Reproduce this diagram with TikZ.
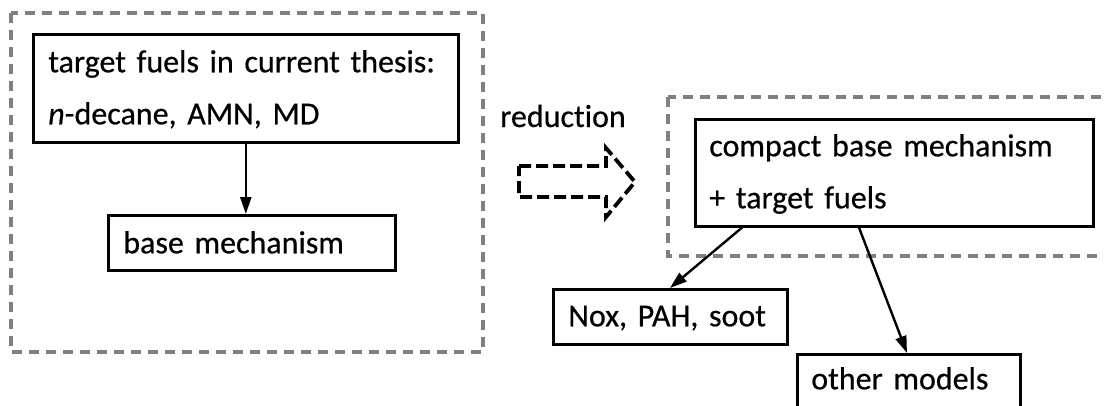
\documentclass[tikz,border=0pt]{standalone}
\usepackage{fontspec}
\setmainfont{Carlito}[Ligatures=NoCommon, FakeBold=0.5]
\usetikzlibrary{arrows.meta}
\definecolor{framegray}{RGB}{128,128,128}
\newcommand{\topstrut}[1]{\rule{0pt}{#1pt}}
\newcommand{\botstrut}[1]{\rule[-#1pt]{0pt}{#1pt}}
\tikzset{
  box/.style={draw, line width=2.6pt, anchor=north west, align=left,
    inner xsep=15pt, inner ysep=0pt, font=\fontsize{32}{52}\selectfont},
  group/.style={draw=framegray, line width=3.2pt, dash pattern=on 10pt off 7pt},
  arr/.style={line width=2.4pt, -{Triangle[length=17pt,width=11pt]}},
  hollow/.style={draw=black, line width=3.8pt, dash pattern=on 12pt off 5pt},
  label/.style={anchor=base west, inner sep=0pt, font=\fontsize{32}{52}\selectfont}
}
\begin{document}
\begin{tikzpicture}[x=1pt, y=-1pt]
  \useasboundingbox (0,0) rectangle (1104,405);
  \clip (0,0) rectangle (1104,405);

  % dashed grouping frames
  \draw[group] (11,13) rectangle (483,352);
  \draw[group] (668,97) rectangle (1125,256);

  % boxes
  \node[box, text width=395pt] (fuels) at (32,33)
    {\topstrut{38}target fuels in current thesis:\\\textit{n}-decane, AMN, MD\botstrut{18}};
  \node[box, text width=257pt] (base) at (107,214)
    {\topstrut{38}base mechanism\botstrut{17}};
  \node[box, inner xsep=14pt, text width=370pt] (compact) at (694,118)
    {\topstrut{37}compact base mechanism\\+ target fuels\botstrut{18}};
  \node[box, text width=204pt] (nox) at (552,288)
    {\topstrut{37}Nox, PAH, soot\botstrut{18}};
  \node[box, inner xsep=14pt, text width=195pt] (other) at (796,353)
    {\topstrut{35}other models\botstrut{30}};

  % reduction step
  \node[label] (red) at (500,127) {reduction};
  \draw[hollow] (519,166) -- (606,166) -- (606,148) -- (635,182)
    -- (606,217) -- (606,197) -- (519,197) -- cycle;

  % connectors
  \draw[arr] (fuels.south) -- (fuels.south |- base.north);
  \draw[arr] ([xshift=48pt]compact.south west) -- ([xshift=118pt]nox.north west);
  \draw[arr] ([xshift=165pt]compact.south west) -- ([xshift=111pt]other.north west);
\end{tikzpicture}
\end{document}
